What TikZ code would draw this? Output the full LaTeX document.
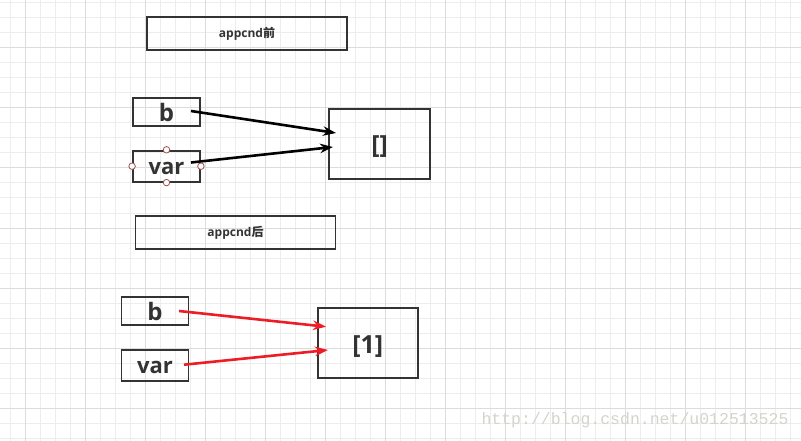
\documentclass[tikz,border=0pt]{standalone}
\usepackage{fontspec}
\setmainfont{Open Sans}[BoldFont={* Bold}]
\newfontfamily\cjk{Noto Sans CJK SC}
\newfontfamily\wmfont{Liberation Mono}
\usetikzlibrary{arrows.meta}
\definecolor{ink}{HTML}{333333}
\definecolor{gminor}{HTML}{EDEDED}
\definecolor{gmajor}{HTML}{DCDCDC}
\definecolor{redarr}{HTML}{EE1C24}
\definecolor{handle}{HTML}{A05050}
\definecolor{wm}{HTML}{D4D4CC}
\newcommand{\dn}[2]{\raisebox{-#1}{#2}}
\tikzset{
  box/.style={draw=ink,line width=1.8pt,inner sep=0pt,text=ink,font=\bfseries,text height=0pt,text depth=0pt},
  titlebox/.style={box,font=\bfseries\fontsize{12}{13}\selectfont},
  varbox/.style={box,font=\bfseries\fontsize{22}{24}\selectfont},
  bigbox/.style={box,font=\bfseries\fontsize{24}{28}\selectfont},
  listbox/.style={box,font=\bfseries\fontsize{25}{28}\selectfont},
  blackarr/.style={line width=2.6pt,black,-{Stealth[length=13pt,width=9.5pt]}},
  redarrow/.style={line width=2.6pt,redarr,-{Stealth[length=13pt,width=9.5pt]}},
  hdl/.style={circle,draw=handle,fill=white,line width=0.8pt,minimum size=6.5pt,inner sep=0pt},
}
\begin{document}
\begin{tikzpicture}[x=1pt,y=-1pt]
\useasboundingbox (0,0) rectangle (801,441);
\fill[white] (0,0) rectangle (801,441);
% grid
\foreach \i in {0,...,52}{\draw[gminor,line width=1pt] (10+15*\i,0) -- (10+15*\i,441);}
\foreach \j in {0,...,29}{\draw[gminor,line width=1pt] (0,3+15*\j) -- (801,3+15*\j);}
\foreach \i in {0,...,12}{\draw[gmajor,line width=1pt] (25+60*\i,0) -- (25+60*\i,441);}
\foreach \j in {0,...,6}{\draw[gmajor,line width=1pt] (0,48+60*\j) -- (801,48+60*\j);}
% before
\node[titlebox,minimum width=200pt,minimum height=33pt] (t1) at (247,33.5) {\dn{4pt}{appcnd{\cjk 前}}};
\node[bigbox,minimum width=67pt,minimum height=28pt] (b1) at (166.5,112) {\dn{9.6pt}{b}};
\node[varbox,minimum width=67pt,minimum height=31pt] (v1) at (166.5,166.2) {\dn{7.9pt}{var}};
\node[listbox,minimum width=101pt,minimum height=70pt] (l1) at (379.7,143.7) {\dn{10.3pt}{[]}};
\coordinate (b1s) at (191,111);
\coordinate (b1e) at (336,133);
\coordinate (v1s) at (191,162.5);
\coordinate (v1e) at (333,147);
\draw[blackarr] (b1s) -- (b1e);
\draw[blackarr] (v1s) -- (v1e);
\node[hdl] (h1) at (v1.north) {};
\node[hdl] (h2) at (v1.south) {};
\node[hdl] (h3) at (v1.west) {};
\node[hdl] (h4) at (v1.east) {};
% after
\node[titlebox,minimum width=200pt,minimum height=33pt] (t2) at (235.5,232.3) {\dn{4pt}{appcnd{\cjk 后}}};
\node[bigbox,minimum width=67pt,minimum height=28pt] (b2) at (155,311) {\dn{9.6pt}{b}};
\node[varbox,minimum width=67pt,minimum height=31pt] (v2) at (155,365.5) {\dn{7.9pt}{var}};
\node[listbox,minimum width=100pt,minimum height=70pt] (l2) at (367.8,342.7) {\dn{10.3pt}{[1]}};
\coordinate (b2s) at (179,311);
\coordinate (b2e) at (326,326.7);
\coordinate (v2s) at (184,364.7);
\coordinate (v2e) at (328,350);
\draw[redarrow] (b2s) -- (b2e);
\draw[redarrow] (v2s) -- (v2e);
% watermark
\node[text=wm,font=\wmfont\fontsize{16.5}{18}\selectfont,inner sep=0pt] (wmk) at (635,420) {http://blog.csdn.net/u012513525};
\end{tikzpicture}
\end{document}
